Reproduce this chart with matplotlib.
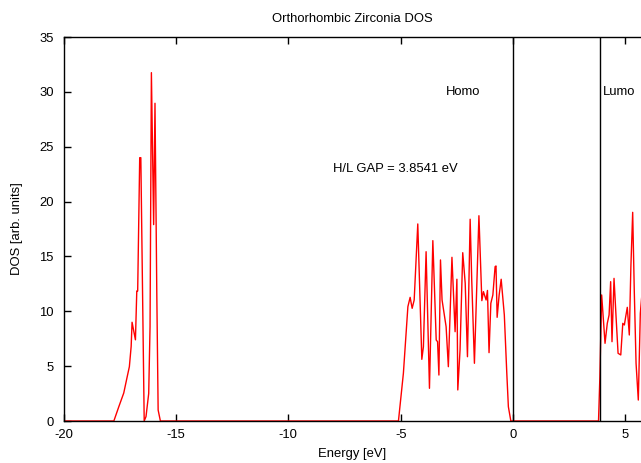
import matplotlib
matplotlib.use("Agg")
import matplotlib.pyplot as plt

plt.rcParams['font.family'] = ['Liberation Sans', 'DejaVu Sans']
plt.rcParams['axes.unicode_minus'] = False

# Energy grid (eV) and DOS values
energy = [-20.0, -17.76, -17.54, -17.32, -17.17, -17.07, -16.99, -16.95, -16.80, -16.74,
          -16.70, -16.61, -16.56, -16.41, -16.33, -16.21, -16.15, -16.09, -15.99, -15.93,
          -15.85, -15.79, -15.69,
          -5.10, -4.88, -4.68, -4.58, -4.49, -4.40, -4.24, -4.06, -3.99, -3.87,
          -3.72, -3.57, -3.42, -3.36, -3.30, -3.23, -3.16, -2.98, -2.88, -2.72,
          -2.58, -2.50, -2.46, -2.36, -2.24, -2.13, -2.03, -1.91, -1.84, -1.72,
          -1.52, -1.39, -1.32, -1.20, -1.14, -1.07, -0.99, -0.90, -0.80, -0.76,
          -0.71, -0.62, -0.53, -0.39, -0.28, -0.21, -0.10,
          3.80, 3.86, 3.94, 4.09, 4.19, 4.27, 4.34, 4.40, 4.49, 4.58, 4.67, 4.79,
          4.88, 4.95, 5.01, 5.08, 5.17, 5.24, 5.32, 5.39, 5.47, 5.57, 5.66, 5.75]
dos = [0.0, 0.0, 1.3, 2.55, 4.0, 4.95, 6.8, 9.0, 7.4, 11.85,
       11.85, 24.0, 24.0, 0.0, 0.4, 2.5, 8.6, 31.75, 17.9, 28.96,
       11.7, 1.0, 0.0,
       0.0, 4.35, 10.42, 11.27, 10.27, 11.03, 17.96, 5.62, 6.77, 15.43,
       2.98, 16.44, 7.38, 7.23, 4.19, 14.68, 11.03, 8.6, 4.95, 14.92,
       8.14, 12.92, 2.83, 6.47, 15.34, 12.55, 5.86, 18.39, 12.85, 5.26,
       18.71, 10.97, 11.79, 11.03, 11.9, 6.23, 10.73, 11.49, 14.07, 14.13,
       9.45, 11.49, 12.92, 9.66, 4.35, 1.3, 0.0,
       0.0, 4.0, 11.49, 7.08, 8.9, 9.66, 12.7, 7.23, 13.0, 9.51, 6.17, 6.02,
       8.9, 8.75, 9.51, 10.36, 7.84, 14.07, 19.02, 11.94, 5.26, 1.91, 9.82, 12.0]

homo = 0.0
lumo = 3.8541
gap_text = "H/L GAP = 3.8541 eV"
xticks = [-20, -15, -10, -5, 0, 5]
yticks = [0, 5, 10, 15, 20, 25, 30, 35]

FS = 9.4

fig = plt.figure(figsize=(6.41, 4.63), dpi=100)
ax = fig.add_axes([63.5/641, 42/463, 1 - 63.5/641, (421 - 37)/463])

ax.plot(energy, dos, color='red', lw=1.0)
ax.axvline(homo, color='black', lw=1.0)
ax.axvline(lumo, color='black', lw=1.0)

ax.set_xlim(-20, 5.69)
ax.set_ylim(0, 35)
ax.set_xticks(xticks)
ax.set_yticks(yticks)
ax.tick_params(direction='in', top=True, right=False, length=5, width=1,
               labelsize=FS, colors='black')
ax.tick_params(axis='x', pad=6)
ax.tick_params(axis='y', pad=7)
for s in ['left', 'bottom', 'top']:
    ax.spines[s].set_linewidth(1)
ax.spines['right'].set_visible(False)

ax.text(-3.0, 30, "Homo", fontsize=FS, va='center', ha='left')
ax.text(4.0, 30, "Lumo", fontsize=FS, va='center', ha='left')
ax.text(-8.0, 23, gap_text, fontsize=FS, va='center', ha='left')

ax.set_title("Orthorhombic Zirconia DOS", fontsize=FS, pad=11)
ax.set_xlabel("Energy [eV]", fontsize=FS, labelpad=5)
ax.set_ylabel("DOS [arb. units]", fontsize=FS, labelpad=12)

fig.savefig("out.png", dpi=100)
